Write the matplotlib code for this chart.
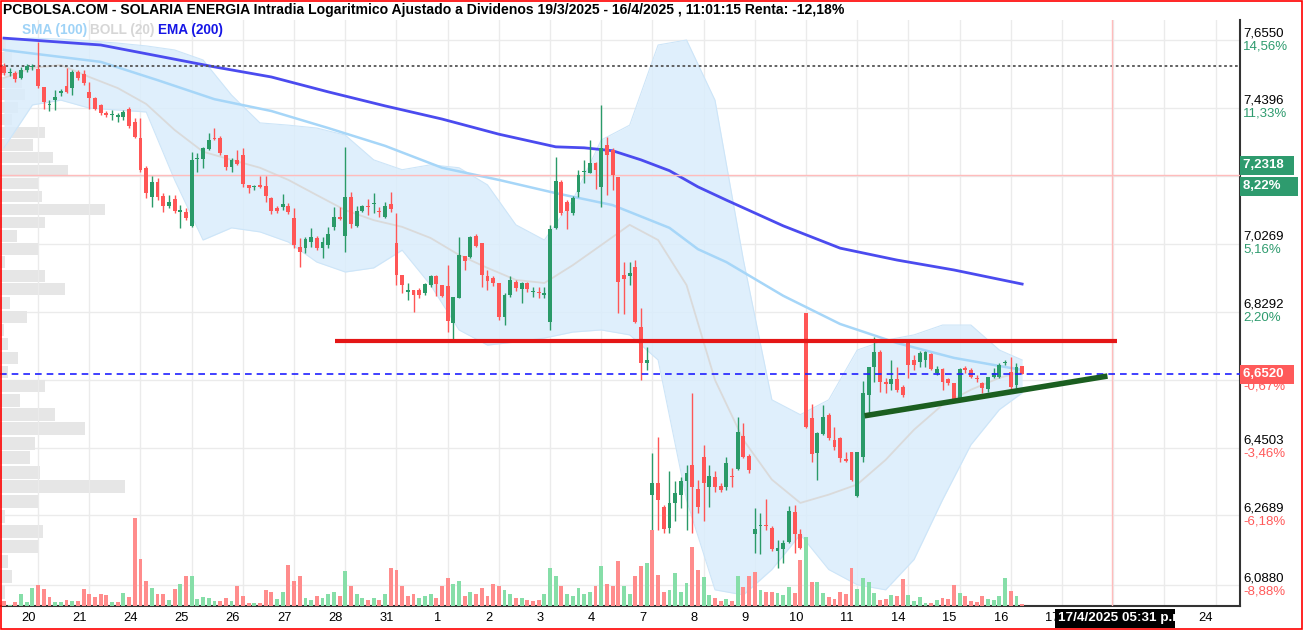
import matplotlib
matplotlib.use("Agg")
import matplotlib.pyplot as plt
from matplotlib.patches import Rectangle
import numpy as np

plt.rcParams['font.family'] = ['Liberation Sans', 'DejaVu Sans']

TITLE = ("PCBOLSA.COM - SOLARIA ENERGIA Intradia Logaritmico Ajustado a Dividenos "
         "19/3/2025 - 16/4/2025 , 11:01:15 Renta: -12,18%")

# hourly candles, 9 per session; index 0 = first candle of 19/3
FIRST = 3
opens = [
    7.572, 7.549, 7.549, 7.534, 7.559, 7.569,
    7.562, 7.505, 7.449, 7.464, 7.486, 7.508, 7.502, 7.553, 7.546,
    7.490, 7.471, 7.449, 7.424, 7.418, 7.411, 7.411, 7.436, 7.396,
    7.346, 7.255, 7.166, 7.212, 7.169, 7.139, 7.160, 7.121, 7.121,
    7.080, 7.282, 7.282, 7.313, 7.346, 7.346, 7.295, 7.258, 7.279,
    7.295, 7.203, 7.197, 7.203, 7.200, 7.163, 7.133, 7.136, 7.139,
    7.103, 7.017, 7.014, 7.032, 7.044, 7.014, 7.023, 7.077, 7.106,
    7.050, 7.166, 7.080, 7.124, 7.139, 7.145, 7.124, 7.106, 7.145,
    7.029, 6.935, 6.886, 6.892, 6.892, 6.883, 6.906, 6.932, 6.906,
    6.903, 6.797, 6.869, 6.991, 6.988, 7.050, 7.029, 6.932, 6.927,
    6.912, 6.814, 6.877, 6.915, 6.895, 6.912, 6.886, 6.886, 6.877,
    6.799, 7.074, 7.212, 7.151, 7.118, 7.182, 7.243, 7.240, 7.270,
    7.197, 7.325, 7.310, 7.227, 6.935, 6.932, 6.959, 6.785, 6.684,
    6.324, 6.356, 6.292, 6.237, 6.302, 6.324, 6.359, 6.404, 6.340,
    6.425, 6.345, 6.370, 6.348, 6.343, 6.372, 6.393, 6.482, 6.428,
    6.219, 6.242, 6.245, 6.237, 6.175, 6.182, 6.200, 6.279, 6.219,
    6.825, 6.532, 6.436, 6.488, 6.540, 6.471, 6.477, 6.420, 6.439,
    6.321, 6.425, 6.595, 6.672, 6.714, 6.631, 6.625, 6.639, 6.617,
    6.751, 6.692, 6.686, 6.692, 6.709, 6.656, 6.667, 6.639, 6.628,
    6.581, 6.670, 6.664, 6.642, 6.628, 6.611, 6.645, 6.645, 6.684,
    6.658, 6.622, 6.675]
highs = [
    7.581, 7.566, 7.556, 7.569, 7.578, 7.578,
    7.649, 7.505, 7.464, 7.496, 7.499, 7.566, 7.559, 7.559, 7.559,
    7.521, 7.474, 7.452, 7.430, 7.433, 7.424, 7.433, 7.443, 7.408,
    7.408, 7.261, 7.230, 7.224, 7.178, 7.172, 7.172, 7.142, 7.133,
    7.304, 7.301, 7.319, 7.362, 7.377, 7.352, 7.295, 7.285, 7.310,
    7.316, 7.203, 7.203, 7.230, 7.230, 7.166, 7.139, 7.175, 7.148,
    7.133, 7.044, 7.047, 7.074, 7.050, 7.047, 7.077, 7.136, 7.136,
    7.319, 7.182, 7.139, 7.142, 7.160, 7.178, 7.136, 7.151, 7.182,
    7.118, 6.935, 6.912, 6.892, 6.898, 6.912, 6.935, 6.935, 6.906,
    6.964, 6.872, 7.047, 6.991, 7.050, 7.056, 7.029, 6.950, 6.932,
    6.912, 6.883, 6.932, 6.921, 6.915, 6.915, 6.900, 6.900, 6.900,
    7.083, 7.288, 7.218, 7.157, 7.169, 7.249, 7.279, 7.340, 7.273,
    7.449, 7.349, 7.316, 7.227, 6.973, 6.973, 6.979, 6.840, 6.729,
    6.436, 6.479, 6.297, 6.386, 6.359, 6.370, 6.404, 6.600, 6.364,
    6.458, 6.404, 6.386, 6.356, 6.425, 6.396, 6.534, 6.518, 6.433,
    6.289, 6.276, 6.313, 6.242, 6.205, 6.205, 6.294, 6.297, 6.234,
    6.825, 6.570, 6.493, 6.567, 6.545, 6.507, 6.479, 6.439, 6.439,
    6.439, 6.633, 6.672, 6.757, 6.720, 6.642, 6.692, 6.672, 6.622,
    6.751, 6.706, 6.717, 6.717, 6.712, 6.675, 6.670, 6.642, 6.628,
    6.670, 6.675, 6.670, 6.650, 6.631, 6.645, 6.670, 6.684, 6.692,
    6.700, 6.684, 6.675]
lows = [
    7.543, 7.540, 7.521, 7.530, 7.553, 7.559,
    7.502, 7.436, 7.430, 7.433, 7.477, 7.486, 7.480, 7.527, 7.511,
    7.436, 7.433, 7.418, 7.411, 7.402, 7.396, 7.402, 7.377, 7.346,
    7.243, 7.163, 7.136, 7.157, 7.121, 7.133, 7.118, 7.074, 7.097,
    7.077, 7.243, 7.255, 7.310, 7.340, 7.295, 7.249, 7.243, 7.264,
    7.197, 7.178, 7.188, 7.194, 7.151, 7.115, 7.118, 7.127, 7.115,
    7.014, 6.959, 6.999, 7.017, 7.008, 6.985, 7.014, 7.068, 7.097,
    7.002, 7.074, 7.077, 7.121, 7.112, 7.118, 7.106, 7.103, 7.121,
    6.906, 6.883, 6.863, 6.828, 6.869, 6.877, 6.900, 6.875, 6.872,
    6.771, 6.748, 6.869, 6.950, 6.985, 7.017, 6.900, 6.892, 6.903,
    6.805, 6.791, 6.872, 6.889, 6.854, 6.886, 6.872, 6.869, 6.869,
    6.777, 7.071, 7.112, 7.071, 7.112, 7.166, 7.209, 7.240, 7.191,
    7.136, 7.172, 7.188, 6.825, 6.822, 6.906, 6.797, 6.636, 6.664,
    6.094, 6.232, 6.224, 6.224, 6.253, 6.289, 6.232, 6.224, 6.276,
    6.253, 6.292, 6.332, 6.332, 6.337, 6.343, 6.391, 6.422, 6.383,
    6.172, 6.167, 6.232, 6.175, 6.133, 6.146, 6.198, 6.172, 6.180,
    6.504, 6.412, 6.364, 6.485, 6.471, 6.444, 6.412, 6.412, 6.361,
    6.318, 6.412, 6.545, 6.631, 6.603, 6.600, 6.609, 6.603, 6.589,
    6.642, 6.664, 6.672, 6.672, 6.664, 6.650, 6.609, 6.622, 6.581,
    6.581, 6.656, 6.642, 6.631, 6.600, 6.603, 6.642, 6.642, 6.678,
    6.609, 6.614, 6.652]
closes = [
    7.549, 7.553, 7.530, 7.559, 7.572, 7.572,
    7.508, 7.458, 7.452, 7.474, 7.493, 7.490, 7.553, 7.534, 7.518,
    7.471, 7.436, 7.424, 7.418, 7.421, 7.418, 7.427, 7.383, 7.349,
    7.249, 7.179, 7.212, 7.166, 7.139, 7.151, 7.124, 7.127, 7.103,
    7.279, 7.285, 7.316, 7.340, 7.343, 7.301, 7.258, 7.279, 7.267,
    7.206, 7.194, 7.200, 7.197, 7.169, 7.124, 7.124, 7.145, 7.121,
    7.023, 7.002, 7.041, 7.047, 7.014, 7.032, 7.056, 7.106, 7.100,
    7.166, 7.085, 7.124, 7.139, 7.136, 7.148, 7.121, 7.139, 7.130,
    6.935, 6.906, 6.892, 6.877, 6.877, 6.909, 6.932, 6.909, 6.875,
    6.802, 6.872, 6.994, 6.976, 7.047, 7.020, 6.935, 6.918, 6.912,
    6.814, 6.877, 6.921, 6.898, 6.912, 6.895, 6.889, 6.883, 6.883,
    7.071, 7.215, 7.118, 7.124, 7.163, 7.233, 7.246, 7.270, 7.249,
    7.316, 7.295, 7.233, 6.915, 6.924, 6.941, 6.799, 6.684, 6.692,
    6.356, 6.310, 6.234, 6.302, 6.329, 6.359, 6.383, 6.345, 6.292,
    6.356, 6.375, 6.345, 6.337, 6.409, 6.370, 6.493, 6.425, 6.391,
    6.234, 6.245, 6.240, 6.182, 6.185, 6.198, 6.281, 6.219, 6.185,
    6.507, 6.433, 6.490, 6.534, 6.477, 6.452, 6.422, 6.414, 6.364,
    6.439, 6.600, 6.672, 6.714, 6.631, 6.625, 6.639, 6.609, 6.595,
    6.678, 6.678, 6.712, 6.714, 6.667, 6.667, 6.631, 6.628, 6.581,
    6.667, 6.664, 6.645, 6.639, 6.614, 6.645, 6.656, 6.678, 6.686,
    6.617, 6.672, 6.652]
volumes = [
    5, 1, 4, 12, 4, 18,
    21, 17, 9, 4, 4, 6, 5, 5, 17,
    12, 9, 12, 11, 4, 4, 13, 9, 88,
    47, 25, 18, 12, 12, 6, 17, 22, 30,
    30, 7, 9, 8, 5, 5, 8, 5, 20,
    10, 3, 3, 3, 16, 14, 7, 14, 41,
    25, 30, 8, 6, 10, 8, 12, 14, 10,
    35, 20, 12, 8, 6, 8, 6, 12, 38,
    36, 20, 10, 12, 8, 10, 12, 8, 20,
    28, 22, 25, 10, 14, 12, 18, 10, 22,
    20, 16, 12, 8, 8, 6, 5, 6, 12,
    38, 30, 20, 12, 10, 18, 12, 14, 20,
    40, 22, 20, 45, 20, 12, 30, 40, 43,
    76, 31, 14, 16, 33, 14, 23, 59, 36,
    29, 11, 8, 5, 7, 5, 30, 19, 30,
    34, 16, 14, 14, 13, 11, 19, 13, 46,
    69, 24, 24, 13, 9, 7, 14, 12, 38,
    17, 28, 24, 13, 6, 7, 11, 10, 27,
    11, 5, 9, 3, 3, 6, 8, 7, 21,
    13, 10, 5, 4, 10, 7, 6, 10, 28,
    15, 10, 2]

# Bollinger (20) sampled every 5 candles
band_idx = [3, 8, 13, 18, 23, 28, 33, 38, 43, 48, 53, 58, 63, 68, 73, 78, 83, 88, 93,
            98, 103, 108, 113, 118, 123, 128, 133, 138, 143, 148, 153, 158, 163, 168,
            173, 178, 182]
boll_up = [7.655, 7.661, 7.658, 7.652, 7.645, 7.636, 7.623, 7.591, 7.480, 7.393, 7.386,
           7.377, 7.355, 7.279, 7.249, 7.264, 7.255, 7.203, 7.083, 7.038, 7.157, 7.340,
           7.386, 7.639, 7.655, 7.464, 6.979, 6.581, 6.540, 6.581, 6.720, 6.748, 6.763,
           6.791, 6.791, 6.720, 6.692]
boll_mid = [7.534, 7.566, 7.575, 7.537, 7.502, 7.452, 7.371, 7.304, 7.279, 7.255, 7.218,
            7.172, 7.127, 7.097, 7.077, 7.044, 6.994, 6.956, 6.921, 6.912, 6.964, 7.023,
            7.083, 7.038, 6.906, 6.636, 6.471, 6.364, 6.302, 6.324, 6.351, 6.417, 6.499,
            6.567, 6.609, 6.642, 6.659]
boll_low = [7.316, 7.449, 7.464, 7.439, 7.433, 7.427, 7.218, 7.038, 7.074, 7.062, 7.032,
            6.973, 6.944, 6.956, 7.008, 6.906, 6.777, 6.734, 6.743, 6.754, 6.771, 6.777,
            6.763, 6.692, 6.310, 6.076, 6.063, 6.128, 6.219, 6.128, 6.089, 6.076, 6.154,
            6.310, 6.458, 6.554, 6.600]

sma_idx = [3, 20, 30, 40, 50, 60, 70, 80, 90, 100, 110, 120, 125, 130, 140, 150, 160, 170, 182]
sma100 = [7.623, 7.585, 7.527, 7.467, 7.430, 7.377, 7.322, 7.255, 7.218, 7.178, 7.142,
          7.074, 7.011, 6.973, 6.875, 6.794, 6.740, 6.698, 6.664]

ema_idx = [3, 10, 20, 30, 40, 50, 60, 70, 80, 90, 100, 105, 110, 115, 120, 125, 130, 140,
           150, 160, 170, 182]
ema200 = [7.661, 7.652, 7.639, 7.604, 7.569, 7.537, 7.490, 7.446, 7.405, 7.358, 7.319,
          7.316, 7.307, 7.279, 7.246, 7.197, 7.157, 7.080, 7.014, 6.979, 6.950, 6.909]

# volume by price (left side)
profile_price = [6.070, 6.110, 6.149, 6.188, 6.227, 6.266, 6.306, 6.345, 6.384, 6.423,
                 6.462, 6.502, 6.541, 6.580, 6.619, 6.658, 6.698, 6.737, 6.776, 6.815,
                 6.854, 6.894, 6.933, 6.972, 7.011, 7.050, 7.090, 7.129, 7.168, 7.207,
                 7.246, 7.286, 7.325, 7.364, 7.403, 7.442, 7.482, 7.521, 7.560, 7.599, 7.638]
profile_vol = [5, 12, 8, 38, 43, 5, 39, 125, 40, 30, 35, 85, 55, 20, 45, 8, 18, 8, 4, 27,
               10, 65, 45, 5, 38, 17, 45, 105, 42, 38, 68, 53, 33, 45, 12, 18, 25, 22, 20,
               12, 6]

date_labels = ['20', '21', '24', '25', '26', '27', '28', '31', '1', '2', '3', '4', '7', '8',
               '9', '10', '11', '14', '15', '16', '17', '22', '23', '24']
hidden_dates = ['22', '23']   # covered by the cursor time box

axis_ticks = [7.6550, 7.4396, 7.2302, 7.0269, 6.8292, 6.6370, 6.4503, 6.2689, 6.0880]
tick_text = ['7,6550', '7,4396', '', '7,0269', '6,8292', '', '6,4503', '6,2689', '6,0880']
tick_pct = ['14,56%', '11,33%', '', '5,16%', '2,20%', '', '-3,46%', '-6,18%', '-8,88%']

cursor_price, cursor_pct, cursor_idx = 7.2318, '8,22%', 197.8
last_price, last_pct = 6.6520, '-0,67%'
dotted_level = 7.572
resist_x, resist_y = [61.2, 198.6], [6.745, 6.745]
trend_x, trend_y = [154.3, 197.0], [6.537, 6.647]

UP, DOWN = '#2a9a68', '#ff5656'
UP_V, DOWN_V = '#86dea8', '#ff8c8c'

W, H = 1303.0, 630.0
fig = plt.figure(figsize=(W / 100, H / 100), dpi=100)
fig.patch.set_facecolor('white')
rect = [0.0, 1 - 606 / H, 1240 / W, (606 - 20) / H]

ax_prof = fig.add_axes(rect)
ax = fig.add_axes(rect, sharey=ax_prof)
ax.patch.set_alpha(0)
ax_vol = ax.twinx()

ax_prof.set_yscale('log')
ax.set_ylim(6.0349, 7.7196)
ax.set_xlim(2.3, 220.3)
ax_prof.set_xlim(0, 1240)
ax_vol.set_ylim(0, 586)

for a in (ax_prof, ax, ax_vol):
    a.tick_params(which='both', left=False, right=False, bottom=False, top=False,
                  labelleft=False, labelright=False, labelbottom=False, labeltop=False)
    for s in a.spines.values():
        s.set_visible(False)
for side in ('right', 'bottom'):
    ax.spines[side].set_visible(True)
    ax.spines[side].set_color('#333333')
    ax.spines[side].set_linewidth(1.5)

# grid
for p in axis_ticks:
    ax_prof.axhline(p, color='#ebebeb', lw=1, zorder=0)
for k in range(len(date_labels)):
    ax.axvline(9 * (k + 1), color='#ebebeb', lw=1, zorder=0)

# volume profile
ax_prof.barh(profile_price, profile_vol, height=0.035, left=0, color='#e6e6e6', zorder=1)

# bollinger band, sma, ema
ax.fill_between(band_idx, boll_low, boll_up, color='#daedfc', alpha=0.85, lw=0, zorder=1)
ax.plot(band_idx, boll_up, color='#cde5f8', lw=0.8, zorder=1)
ax.plot(band_idx, boll_low, color='#cde5f8', lw=0.8, zorder=1)
ax.plot(band_idx, boll_mid, color='#dadada', lw=1.3, zorder=2)
ax.plot(sma_idx, sma100, color='#a6d6f8', lw=1.8, zorder=2)
ax.plot(ema_idx, ema200, color='#4b4bef', lw=2, zorder=3)

# candles
idx = np.arange(FIRST, FIRST + len(opens))
o = np.array(opens)
c = np.array(closes)
cols = [UP if cc >= oo else DOWN for oo, cc in zip(o, c)]
ax.vlines(idx, lows, highs, colors=cols, lw=1.0, zorder=4)
body_lo = np.minimum(o, c)
body_h = np.maximum(np.abs(c - o), 0.003)
ax.bar(idx, body_h, bottom=body_lo, width=0.68, color=cols, zorder=5)

# volume
prev = np.concatenate([[o[0]], c[:-1]])
vcols = [UP_V if cc >= pp else DOWN_V for pp, cc in zip(prev, c)]
ax_vol.bar(idx, volumes, width=0.68, color=vcols, zorder=2)

# levels
ax.axhline(dotted_level, color='#555555', lw=1.3, ls=(0, (1.5, 1.5)), zorder=3)
ax.axhline(cursor_price, color='#ffbcbc', lw=1, zorder=3)
ax.axvline(cursor_idx, color='#ffbcbc', lw=1, zorder=3)
ax.axhline(last_price, color='#2020ff', lw=1.2, dashes=(4, 3), zorder=6)
ax.plot(resist_x, resist_y, color='#e41616', lw=3, solid_capstyle='butt', zorder=7)
ax.plot(trend_x, trend_y, color='#1b5e20', lw=4, solid_capstyle='butt', zorder=7)

# right price axis
ytr = ax.get_yaxis_transform()
for p, t, pc in zip(axis_ticks, tick_text, tick_pct):
    if not t:
        continue
    pcol = '#2e9b6e' if not pc.startswith('-') else '#ff5a5a'
    ax.annotate(t, xy=(1, p), xycoords=ytr, xytext=(3, 7), textcoords='offset pixels',
                ha='left', va='center', fontsize=9.5, color='black', annotation_clip=False)
    ax.annotate(pc, xy=(1, p), xycoords=ytr, xytext=(3, -6), textcoords='offset pixels',
                ha='left', va='center', fontsize=9.5, color=pcol, annotation_clip=False)

box_kw = dict(textcoords='offset pixels', ha='left', va='center', fontsize=9.5,
              color='white', weight='bold', annotation_clip=False)
ax.annotate(cursor_pct + '    ', xy=(1, cursor_price), xycoords=ytr, xytext=(3, -11),
            bbox=dict(boxstyle='square,pad=0.25', fc='#2e9b6e', ec='none'), **box_kw)
ax.annotate('{:.4f}'.format(cursor_price).replace('.', ',') + '  ', xy=(1, cursor_price),
            xycoords=ytr, xytext=(3, 10),
            bbox=dict(boxstyle='square,pad=0.25', fc='#2e9b6e', ec='none'), **box_kw)
ax.annotate(last_pct, xy=(1, last_price), xycoords=ytr, xytext=(3, -12),
            textcoords='offset pixels', ha='left', va='center', fontsize=9.5,
            color='#ff5a5a', annotation_clip=False)
ax.annotate('{:.4f}'.format(last_price).replace('.', ',') + '  ', xy=(1, last_price),
            xycoords=ytr, xytext=(3, 0),
            bbox=dict(boxstyle='square,pad=0.25', fc='#ff5a5a', ec='none'), **box_kw)

# dates
xtr = ax.get_xaxis_transform()
for k, lab in enumerate(date_labels):
    if k in (21, 22) and lab in hidden_dates:
        continue
    ax.text(9 * (k + 1) - 1.75, -0.021, lab, transform=xtr, ha='center', va='center',
            fontsize=9.3, color='black', clip_on=False)

fig.add_artist(Rectangle((1055 / W, 1 - 628 / H), 120 / W, 19 / H, transform=fig.transFigure,
                         fc='black', ec='none', zorder=10))
fig.text(1058 / W, 1 - 618.5 / H, '17/4/2025 05:31 p.m.', color='white', weight='bold',
         fontsize=9.7, va='center', ha='left', zorder=11)

# title and legend
fig.text(3 / W, 1 - 10 / H, TITLE, fontsize=10.1, weight='bold', va='center', ha='left')
fig.text(22 / W, 1 - 30 / H, 'SMA (100)', fontsize=9.8, weight='bold', color='#9fd3f7',
         va='center')
fig.text(90 / W, 1 - 30 / H, 'BOLL (20)', fontsize=9.8, weight='bold', color='#d6d6d6',
         va='center')
fig.text(158 / W, 1 - 30 / H, 'EMA (200)', fontsize=9.8, weight='bold', color='#1616e6',
         va='center')

fig.add_artist(Rectangle((0.0006, 0.001), 0.9988, 0.998, transform=fig.transFigure,
                         fill=False, ec='#ff0000', lw=1.2, zorder=20))

fig.savefig('out.png', dpi=100)
